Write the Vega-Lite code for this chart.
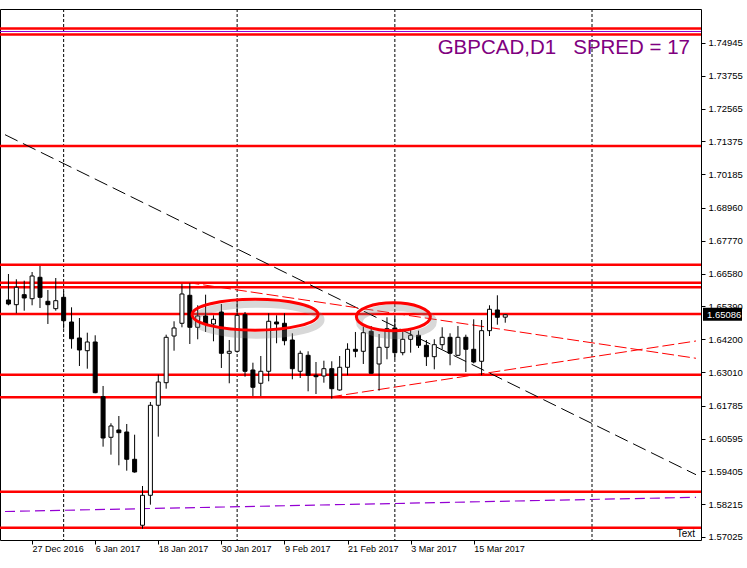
{
  "$schema": "https://vega.github.io/schema/vega-lite/v6.json",
  "autosize": "none",
  "width": 701,
  "height": 531,
  "padding": {"left": 0, "top": 9, "right": 46, "bottom": 28},
  "background": "white",
  "config": {
    "font": "Liberation Sans",
    "view": {"stroke": "black", "strokeWidth": 1},
    "axis": {"title": null, "grid": false, "domain": false, "tickColor": "black", "labelColor": "black", "labelFont": "Liberation Sans", "labelFontSize": 9.5, "labelOverlap": false, "labelBound": false, "labelFlush": false}
  },
  "title": {
    "text": "GBPCAD,D1\u00a0\u00a0\u00a0SPRED = 17",
    "orient": "top",
    "anchor": "end",
    "frame": "group",
    "baseline": "top",
    "offset": -50,
    "dx": -11,
    "color": "#800080",
    "font": "Liberation Sans",
    "fontSize": 20.5,
    "fontWeight": "normal"
  },
  "datasets": {
    "candles": [
      {"k": 0, "o": 1.65622, "h": 1.66565, "l": 1.65430, "c": 1.65477},
      {"k": 1, "o": 1.65452, "h": 1.66373, "l": 1.65140, "c": 1.66083},
      {"k": 2, "o": 1.65815, "h": 1.66322, "l": 1.65234, "c": 1.65695},
      {"k": 3, "o": 1.65669, "h": 1.66638, "l": 1.65430, "c": 1.66493},
      {"k": 4, "o": 1.66446, "h": 1.66856, "l": 1.65332, "c": 1.65720},
      {"k": 5, "o": 1.65575, "h": 1.65985, "l": 1.64752, "c": 1.65452},
      {"k": 6, "o": 1.65307, "h": 1.66420, "l": 1.65234, "c": 1.65597},
      {"k": 7, "o": 1.65720, "h": 1.65938, "l": 1.64581, "c": 1.64871},
      {"k": 8, "o": 1.64824, "h": 1.65357, "l": 1.63856, "c": 1.64218},
      {"k": 9, "o": 1.64244, "h": 1.64969, "l": 1.63228, "c": 1.63809},
      {"k": 10, "o": 1.63783, "h": 1.64436, "l": 1.63130, "c": 1.64099},
      {"k": 11, "o": 1.64099, "h": 1.64342, "l": 1.62240, "c": 1.62260},
      {"k": 12, "o": 1.62115, "h": 1.62503, "l": 1.60301, "c": 1.60616},
      {"k": 13, "o": 1.60642, "h": 1.61150, "l": 1.60011, "c": 1.61052},
      {"k": 14, "o": 1.60907, "h": 1.61414, "l": 1.59626, "c": 1.60809},
      {"k": 15, "o": 1.60834, "h": 1.61124, "l": 1.59430, "c": 1.59844},
      {"k": 16, "o": 1.59844, "h": 1.60736, "l": 1.59358, "c": 1.59383},
      {"k": 17, "o": 1.57450, "h": 1.58875, "l": 1.57326, "c": 1.58538},
      {"k": 18, "o": 1.58538, "h": 1.61922, "l": 1.58197, "c": 1.61803},
      {"k": 19, "o": 1.61803, "h": 1.62913, "l": 1.60664, "c": 1.62648},
      {"k": 20, "o": 1.62622, "h": 1.64364, "l": 1.62405, "c": 1.64269},
      {"k": 21, "o": 1.64316, "h": 1.64850, "l": 1.63783, "c": 1.64607},
      {"k": 22, "o": 1.64777, "h": 1.66203, "l": 1.64632, "c": 1.65840},
      {"k": 23, "o": 1.65793, "h": 1.66228, "l": 1.64026, "c": 1.64632},
      {"k": 24, "o": 1.64632, "h": 1.65430, "l": 1.64197, "c": 1.65042},
      {"k": 25, "o": 1.65042, "h": 1.65815, "l": 1.64462, "c": 1.64752},
      {"k": 26, "o": 1.64752, "h": 1.65067, "l": 1.64124, "c": 1.64922},
      {"k": 27, "o": 1.65187, "h": 1.65477, "l": 1.63156, "c": 1.63689},
      {"k": 28, "o": 1.63689, "h": 1.64171, "l": 1.62601, "c": 1.63761},
      {"k": 29, "o": 1.63761, "h": 1.65695, "l": 1.63711, "c": 1.65067},
      {"k": 30, "o": 1.65089, "h": 1.65187, "l": 1.62840, "c": 1.63036},
      {"k": 31, "o": 1.63083, "h": 1.63348, "l": 1.62140, "c": 1.62456},
      {"k": 32, "o": 1.62601, "h": 1.63591, "l": 1.62140, "c": 1.63036},
      {"k": 33, "o": 1.63036, "h": 1.65140, "l": 1.62673, "c": 1.64850},
      {"k": 34, "o": 1.64824, "h": 1.65067, "l": 1.64052, "c": 1.64752},
      {"k": 35, "o": 1.64777, "h": 1.65140, "l": 1.63979, "c": 1.64146},
      {"k": 36, "o": 1.64171, "h": 1.64414, "l": 1.62746, "c": 1.63130},
      {"k": 37, "o": 1.63036, "h": 1.63783, "l": 1.62793, "c": 1.63689},
      {"k": 38, "o": 1.63616, "h": 1.63761, "l": 1.62310, "c": 1.62891},
      {"k": 39, "o": 1.62891, "h": 1.63373, "l": 1.62212, "c": 1.62840},
      {"k": 40, "o": 1.62865, "h": 1.63420, "l": 1.62622, "c": 1.63130},
      {"k": 41, "o": 1.63130, "h": 1.63399, "l": 1.62042, "c": 1.62405},
      {"k": 42, "o": 1.62358, "h": 1.63591, "l": 1.62332, "c": 1.63181},
      {"k": 43, "o": 1.63181, "h": 1.64052, "l": 1.62891, "c": 1.63834},
      {"k": 44, "o": 1.63834, "h": 1.64462, "l": 1.63544, "c": 1.63761},
      {"k": 45, "o": 1.63761, "h": 1.64654, "l": 1.63301, "c": 1.64436},
      {"k": 46, "o": 1.64487, "h": 1.64679, "l": 1.62950, "c": 1.62963},
      {"k": 47, "o": 1.63301, "h": 1.64389, "l": 1.62332, "c": 1.63906},
      {"k": 48, "o": 1.63906, "h": 1.64995, "l": 1.63471, "c": 1.64581},
      {"k": 49, "o": 1.64607, "h": 1.65017, "l": 1.63471, "c": 1.63711},
      {"k": 50, "o": 1.63711, "h": 1.64487, "l": 1.63616, "c": 1.64197},
      {"k": 51, "o": 1.64197, "h": 1.64581, "l": 1.63711, "c": 1.64342},
      {"k": 52, "o": 1.64342, "h": 1.64509, "l": 1.63881, "c": 1.63979},
      {"k": 53, "o": 1.63979, "h": 1.64171, "l": 1.63228, "c": 1.63566},
      {"k": 54, "o": 1.63566, "h": 1.64197, "l": 1.63108, "c": 1.64001},
      {"k": 55, "o": 1.64001, "h": 1.64632, "l": 1.63834, "c": 1.64269},
      {"k": 56, "o": 1.64269, "h": 1.64414, "l": 1.63254, "c": 1.63689},
      {"k": 57, "o": 1.63616, "h": 1.64679, "l": 1.63591, "c": 1.64269},
      {"k": 58, "o": 1.64269, "h": 1.64364, "l": 1.63011, "c": 1.63834},
      {"k": 59, "o": 1.63834, "h": 1.64922, "l": 1.63326, "c": 1.63373},
      {"k": 60, "o": 1.63399, "h": 1.64897, "l": 1.62891, "c": 1.64509},
      {"k": 61, "o": 1.64509, "h": 1.65430, "l": 1.64316, "c": 1.65285},
      {"k": 62, "o": 1.65260, "h": 1.65793, "l": 1.64727, "c": 1.64995},
      {"k": 63, "o": 1.65000, "h": 1.65114, "l": 1.64799, "c": 1.65086}
    ],
    "levels": [
      {"p": 1.75471}, {"p": 1.75253}, {"p": 1.71209}, {"p": 1.66903},
      {"p": 1.66250}, {"p": 1.66083}, {"p": 1.65114}, {"p": 1.62913},
      {"p": 1.62093}, {"p": 1.58668}, {"p": 1.57362}
    ],
    "purpleLevel": [{"p": 1.75362}],
    "separators": [{"k": 7}, {"k": 29}, {"k": 49}, {"k": 74}],
    "purpleLine": [{"k": -0.4375, "p": 1.5795}, {"k": 87.1875, "p": 1.58465}],
    "blackLine": [{"k": -0.4375, "p": 1.71619}, {"k": 87.1875, "p": 1.59285}],
    "redLines": [
      {"id": "upper", "k": 22.69, "p": 1.66257},
      {"id": "upper", "k": 87.1875, "p": 1.63508},
      {"id": "lower", "k": 40.81, "p": 1.62104},
      {"id": "lower", "k": 87.1875, "p": 1.64135}
    ],
    "ellipseA": [{"k": 31.275, "p": 1.65089}],
    "ellipseB": [{"k": 48.81, "p": 1.65017}]
  },
  "layer": [
    {
      "data": {"name": "separators"},
      "mark": {"type": "rule", "color": "black", "strokeWidth": 1, "strokeDash": [3, 2]},
      "encoding": {
        "x": {"field": "k", "type": "quantitative", "scale": {"domain": [-0.4375, 87.1875], "nice": false, "zero": false}}
      }
    },
    {
      "data": {"name": "levels"},
      "mark": {"type": "rule", "color": "#ff0000", "strokeWidth": 2.5},
      "encoding": {
        "y": {"field": "p", "type": "quantitative", "scale": {"domain": [1.56916, 1.76178], "nice": false, "zero": false}}
      }
    },
    {
      "data": {"name": "purpleLevel"},
      "mark": {"type": "rule", "color": "#9400d3", "strokeWidth": 1},
      "encoding": {
        "y": {"field": "p", "type": "quantitative"}
      }
    },
    {
      "data": {"name": "purpleLine"},
      "mark": {"type": "line", "color": "#9400d3", "strokeWidth": 1.2, "strokeDash": [10, 5], "clip": true},
      "encoding": {
        "x": {"field": "k", "type": "quantitative"},
        "y": {"field": "p", "type": "quantitative"}
      }
    },
    {
      "data": {"name": "blackLine"},
      "mark": {"type": "line", "color": "black", "strokeWidth": 1, "strokeDash": [14, 6], "clip": true},
      "encoding": {
        "x": {"field": "k", "type": "quantitative"},
        "y": {"field": "p", "type": "quantitative"}
      }
    },
    {
      "data": {"name": "redLines"},
      "mark": {"type": "line", "color": "#ff0000", "strokeWidth": 1, "strokeDash": [12, 4], "clip": true},
      "encoding": {
        "x": {"field": "k", "type": "quantitative"},
        "y": {"field": "p", "type": "quantitative"},
        "detail": {"field": "id", "type": "nominal"}
      }
    },
    {
      "data": {"name": "candles"},
      "mark": {"type": "rule", "color": "black", "strokeWidth": 1, "clip": true},
      "encoding": {
        "x": {"field": "k", "type": "quantitative", "scale": {"domain": [-0.4375, 87.1875], "nice": false, "zero": false},
          "axis": {"orient": "bottom", "values": [3, 11, 19, 27, 35, 43, 51, 59], "tickCount": 40,
            "labelExpr": "datum.value == 3 ? '27 Dec 2016' : datum.value == 11 ? '6 Jan 2017' : datum.value == 19 ? '18 Jan 2017' : datum.value == 27 ? '30 Jan 2017' : datum.value == 35 ? '9 Feb 2017' : datum.value == 43 ? '21 Feb 2017' : datum.value == 51 ? '3 Mar 2017' : '15 Mar 2017'",
            "tickSize": 4, "labelAlign": "left", "labelBaseline": "top", "labelPadding": 0, "labelFontSize": 9, "labelDx": -3,
            "labelOverlap": false, "labelBound": false, "labelFlush": false}},
        "y": {"field": "l", "type": "quantitative", "scale": {"domain": [1.56916, 1.76178], "nice": false, "zero": false},
          "axis": {"orient": "right", "values": [1.57025, 1.58215, 1.59405, 1.60595, 1.61785, 1.63010, 1.64200, 1.65390, 1.66580, 1.67770, 1.68960, 1.70185, 1.71375, 1.72565, 1.73755, 1.74945],
            "tickCount": 40, "format": ".5f", "tickSize": 4, "labelPadding": 3,
            "labelOverlap": false, "labelBound": false, "labelFlush": false}},
        "y2": {"field": "h"}
      }
    },
    {
      "data": {"name": "candles"},
      "mark": {"type": "bar", "width": 4, "stroke": "black", "strokeWidth": 1, "clip": true},
      "encoding": {
        "x": {"field": "k", "type": "quantitative"},
        "y": {"field": "o", "type": "quantitative"},
        "y2": {"field": "c"},
        "fill": {"condition": {"test": "datum.c >= datum.o", "value": "white"}, "value": "black"}
      }
    },
    {
      "data": {"name": "ellipseA"},
      "mark": {"type": "point", "shape": "M-1,0A1,0.246,0,1,1,1,0A1,0.246,0,1,1,-1,0Z", "size": 15876, "filled": false, "stroke": "#808080", "strokeWidth": 7, "opacity": 0.3, "xOffset": 3, "yOffset": 5},
      "encoding": {
        "x": {"field": "k", "type": "quantitative"},
        "y": {"field": "p", "type": "quantitative"}
      }
    },
    {
      "data": {"name": "ellipseA"},
      "mark": {"type": "point", "shape": "M-1,0A1,0.246,0,1,1,1,0A1,0.246,0,1,1,-1,0Z", "size": 15876, "filled": false, "stroke": "#ff0000", "strokeWidth": 3, "opacity": 1},
      "encoding": {
        "x": {"field": "k", "type": "quantitative"},
        "y": {"field": "p", "type": "quantitative"}
      }
    },
    {
      "data": {"name": "ellipseB"},
      "mark": {"type": "point", "shape": "M-1,0A1,0.378,0,1,1,1,0A1,0.378,0,1,1,-1,0Z", "size": 5476, "filled": false, "stroke": "#808080", "strokeWidth": 7, "opacity": 0.3, "xOffset": 3, "yOffset": 5},
      "encoding": {
        "x": {"field": "k", "type": "quantitative"},
        "y": {"field": "p", "type": "quantitative"}
      }
    },
    {
      "data": {"name": "ellipseB"},
      "mark": {"type": "point", "shape": "M-1,0A1,0.378,0,1,1,1,0A1,0.378,0,1,1,-1,0Z", "size": 5476, "filled": false, "stroke": "#ff0000", "strokeWidth": 3, "opacity": 1},
      "encoding": {
        "x": {"field": "k", "type": "quantitative"},
        "y": {"field": "p", "type": "quantitative"}
      }
    },
    {
      "data": {"name": "candles"},
      "transform": [{"filter": "datum.k == 63"}],
      "mark": {"type": "rect", "color": "black", "xOffset": 2, "x2Offset": 41, "yOffset": -7, "y2Offset": 6, "clip": false},
      "encoding": {
        "x": {"value": "width"},
        "x2": {"value": "width"},
        "y": {"field": "c", "type": "quantitative"},
        "y2": {"field": "c"}
      }
    },
    {
      "data": {"name": "candles"},
      "transform": [{"filter": "datum.k == 63"}],
      "mark": {"type": "text", "color": "white", "align": "left", "baseline": "middle", "dx": 6, "fontSize": 9.5, "font": "Liberation Sans", "clip": false},
      "encoding": {
        "x": {"value": "width"},
        "y": {"field": "c", "type": "quantitative"},
        "text": {"field": "c", "type": "quantitative", "format": ".5f"}
      }
    },
    {
      "data": {"values": [{"label": "Text"}]},
      "mark": {"type": "text", "color": "black", "align": "right", "baseline": "bottom", "fontSize": 10, "font": "Liberation Sans", "dx": -1, "dy": -1},
      "encoding": {
        "x": {"datum": 87.1875, "type": "quantitative"},
        "y": {"datum": 1.56916, "type": "quantitative"},
        "text": {"field": "label"}
      }
    }
  ]
}
